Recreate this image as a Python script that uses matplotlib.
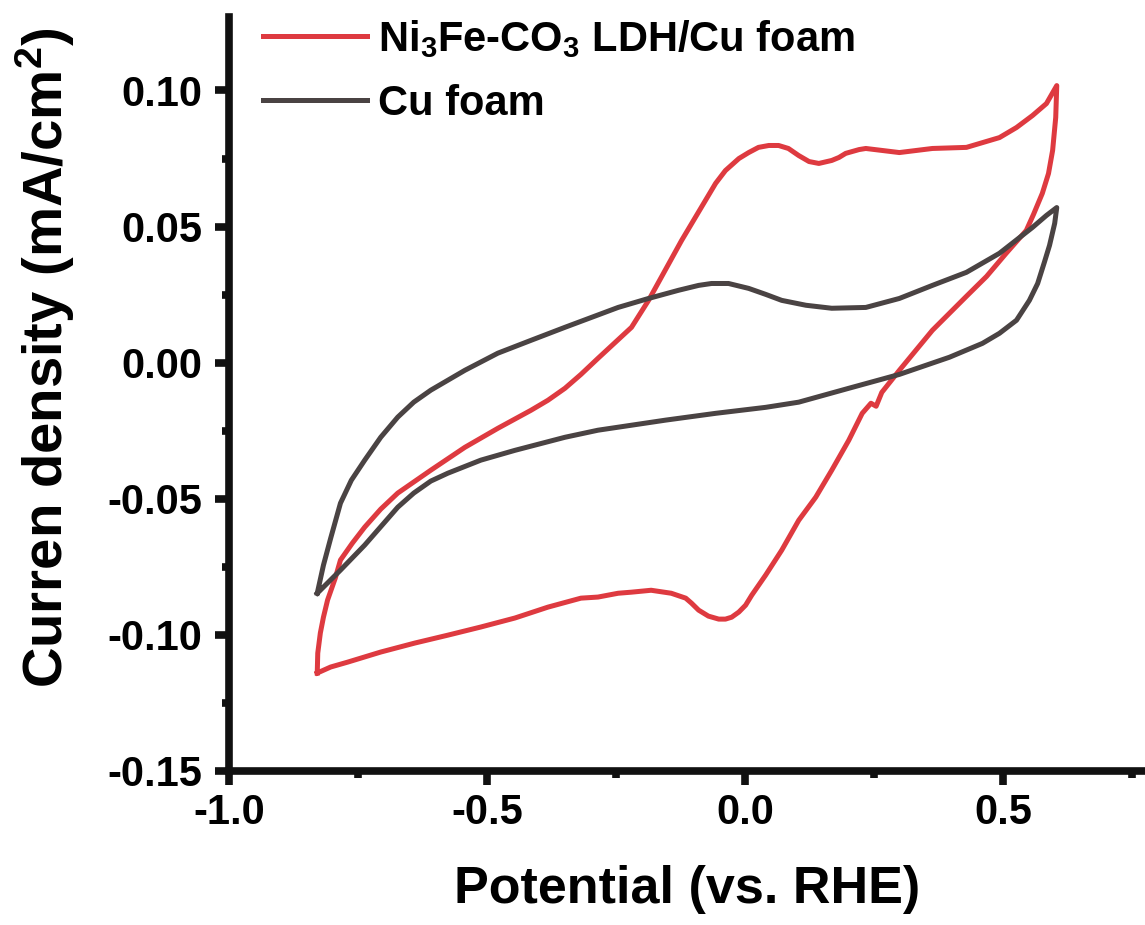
import matplotlib
matplotlib.use("Agg")
import matplotlib.pyplot as plt
from matplotlib.ticker import FixedLocator

plt.rcParams['font.family'] = ['Liberation Sans', 'DejaVu Sans']
plt.rcParams['font.weight'] = 'bold'
plt.rcParams['mathtext.fontset'] = 'custom'
plt.rcParams['mathtext.rm'] = 'Liberation Sans:bold'
plt.rcParams['mathtext.it'] = 'Liberation Sans:bold'
plt.rcParams['mathtext.bf'] = 'Liberation Sans:bold'
plt.rcParams['mathtext.default'] = 'rm'

# Ni3Fe-CO3 LDH/Cu foam CV loop (potential V vs RHE, current density mA/cm2)
ldh_x = [-0.829, -0.803, -0.770, -0.706, -0.640, -0.576, -0.512, -0.446, -0.382, -0.318,
         -0.285, -0.246, -0.220, -0.182, -0.143, -0.115, -0.104, -0.090, -0.071, -0.051,
         -0.038, -0.026, -0.012, 0.001, 0.013, 0.040, 0.071, 0.104, 0.137, 0.168,
         0.201, 0.227, 0.244, 0.254, 0.265, 0.299, 0.363, 0.429, 0.468, 0.506,
         0.545, 0.559, 0.576, 0.588, 0.596, 0.602, 0.604,
         0.584, 0.557, 0.526, 0.493, 0.429, 0.363, 0.299, 0.234, 0.221, 0.195,
         0.182, 0.168, 0.143, 0.124, 0.104, 0.084, 0.065, 0.046, 0.026, 0.007,
         -0.012, -0.038, -0.057, -0.123, -0.187, -0.220, -0.285, -0.318, -0.349, -0.382,
         -0.415, -0.479, -0.543, -0.609, -0.673, -0.706, -0.737, -0.761, -0.784, -0.794,
         -0.809, -0.817, -0.823, -0.828, -0.829]
ldh_y = [-0.1140, -0.1118, -0.1100, -0.1063, -0.1030, -0.1001, -0.0971, -0.0938, -0.0898, -0.0865,
         -0.0861, -0.0847, -0.0843, -0.0836, -0.0847, -0.0865, -0.0883, -0.0909, -0.0931, -0.0942,
         -0.0942, -0.0935, -0.0916, -0.0891, -0.0854, -0.0780, -0.0689, -0.0579, -0.0494, -0.0395,
         -0.0285, -0.0186, -0.0149, -0.0160, -0.0109, -0.0028, 0.0119, 0.0244, 0.0317, 0.0402,
         0.0486, 0.0545, 0.0622, 0.0695, 0.0780, 0.0901, 0.1018,
         0.0952, 0.0908, 0.0864, 0.0827, 0.0791, 0.0787, 0.0772, 0.0787, 0.0783, 0.0769,
         0.0754, 0.0743, 0.0732, 0.0739, 0.0761, 0.0787, 0.0798, 0.0798, 0.0791, 0.0772,
         0.0750, 0.0706, 0.0659, 0.0449, 0.0229, 0.0130, 0.0016, -0.0043, -0.0094, -0.0138,
         -0.0175, -0.0241, -0.0311, -0.0395, -0.0479, -0.0538, -0.0604, -0.0663, -0.0725, -0.0791,
         -0.0872, -0.0935, -0.0993, -0.1067, -0.1140]

# Cu foam CV loop
cu_x = [-0.829, -0.817, -0.803, -0.784, -0.763, -0.737, -0.706, -0.673, -0.642, -0.609,
        -0.543, -0.479, -0.415, -0.349, -0.246, -0.187, -0.129, -0.090, -0.065, -0.032,
        0.007, 0.040, 0.071, 0.118, 0.168, 0.234, 0.299, 0.363, 0.429, 0.493,
        0.557, 0.584, 0.604,
        0.600, 0.590, 0.580, 0.567, 0.551, 0.526, 0.493, 0.460, 0.396, 0.299,
        0.201, 0.104, 0.040, -0.057, -0.154, -0.285, -0.349, -0.446, -0.512, -0.576,
        -0.609, -0.642, -0.673, -0.737, -0.784, -0.829]
cu_y = [-0.0847, -0.0744, -0.0645, -0.0516, -0.0432, -0.0358, -0.0274, -0.0200, -0.0145, -0.0101,
        -0.0028, 0.0035, 0.0082, 0.0130, 0.0203, 0.0236, 0.0266, 0.0284, 0.0291, 0.0291,
        0.0273, 0.0251, 0.0229, 0.0211, 0.0200, 0.0203, 0.0236, 0.0284, 0.0332, 0.0402,
        0.0497, 0.0541, 0.0570,
        0.0512, 0.0431, 0.0369, 0.0291, 0.0229, 0.0156, 0.0108, 0.0071, 0.0020, -0.0043,
        -0.0094, -0.0145, -0.0164, -0.0186, -0.0211, -0.0248, -0.0274, -0.0322, -0.0358, -0.0406,
        -0.0435, -0.0479, -0.0531, -0.0670, -0.0762, -0.0847]

series_labels = [r'Ni$_3$Fe-CO$_3$ LDH/Cu foam', 'Cu foam']
series_colors = ['#DE3A40', '#4A4343']

x_ticks = [-1.0, -0.5, 0.0, 0.5]
x_minor = [-0.75, -0.25, 0.25, 0.75]
y_ticks = [-0.15, -0.10, -0.05, 0.00, 0.05, 0.10]
y_minor = [-0.125, -0.075, -0.025, 0.025, 0.075]

fig = plt.figure(figsize=(11.45, 9.25), dpi=100)
ax = fig.add_axes([229 / 1145, 154 / 925, 916 / 1145, 754 / 925])

ax.plot(ldh_x, ldh_y, color=series_colors[0], lw=3.6, label=series_labels[0],
        solid_joinstyle='round')
ax.plot(cu_x, cu_y, color=series_colors[1], lw=3.6, label=series_labels[1],
        solid_joinstyle='round')

ax.set_xlim(-1.0, 0.775)
ax.set_ylim(-0.15, 0.127)
ax.set_xticks(x_ticks)
ax.set_xticklabels([f'{v:.1f}' for v in x_ticks])
ax.set_yticks(y_ticks)
ax.set_yticklabels([f'{v:.2f}' for v in y_ticks])
ax.xaxis.set_minor_locator(FixedLocator(x_minor))
ax.yaxis.set_minor_locator(FixedLocator(y_minor))

for s in ['top', 'right']:
    ax.spines[s].set_visible(False)
for s in ['left', 'bottom']:
    ax.spines[s].set_linewidth(5.5)
    ax.spines[s].set_color('#111111')
    ax.spines[s].set_capstyle('projecting')

ax.tick_params(which='major', direction='out', length=10, width=5.5, color='#111111',
               labelsize=30)
ax.tick_params(which='minor', direction='out', length=5, width=5.5, color='#111111')
ax.tick_params(axis='x', which='major', pad=6)
ax.tick_params(axis='y', which='major', pad=9)
for lab in ax.get_xticklabels() + ax.get_yticklabels():
    lab.set_fontweight('bold')

ax.set_xlabel('Potential (vs. RHE)', fontsize=37.5, fontweight='bold', labelpad=23)
ax.set_ylabel(r'Curren density (mA/cm$^2$)', fontsize=40.5, fontweight='bold')
ax.yaxis.set_label_coords(-0.166, 0.548)

leg = ax.legend(loc='upper left', bbox_to_anchor=(263 / 1145, 1 - 18 / 925),
                bbox_transform=fig.transFigure, frameon=False, fontsize=30,
                handlelength=2.5, handletextpad=0.25, labelspacing=0.58,
                borderpad=0, borderaxespad=0)
for t in leg.get_texts():
    t.set_fontweight('bold')

fig.savefig('out.png', dpi=100, facecolor='white')
